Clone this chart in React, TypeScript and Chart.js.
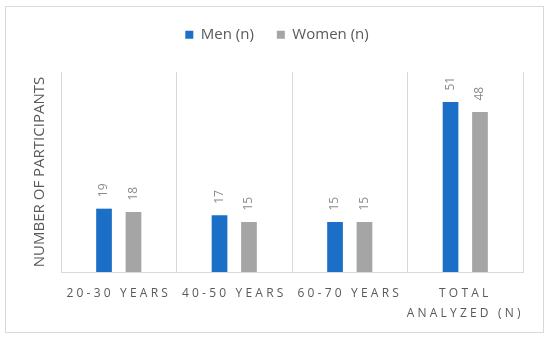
import React, { useEffect, useRef } from "react";
import { Chart, registerables } from "chart.js";

Chart.register(...registerables);

const categories: (string | string[])[] = [
  "20-30 YEARS",
  "40-50 YEARS",
  "60-70 YEARS",
  ["TOTAL", "ANALYZED (N)"],
];
const menValues = [19, 17, 15, 51];
const womenValues = [18, 15, 15, 48];
const seriesNames = ["Men (n)", "Women (n)"];
const yAxisTitle = "NUMBER OF PARTICIPANTS";

const FONT = "'Open Sans'";
const TEXT = "#595959";

const dataLabelPlugin = {
  id: "dataLabelsRotated",
  afterDatasetsDraw(chart: any) {
    const ctx = chart.ctx;
    ctx.save();
    ctx.font = `12px ${FONT}`;
    ctx.fillStyle = "#8a8a8a";
    ctx.textAlign = "left";
    ctx.textBaseline = "middle";
    chart.data.datasets.forEach((ds: any, i: number) => {
      const meta = chart.getDatasetMeta(i);
      meta.data.forEach((el: any, j: number) => {
        ctx.save();
        ctx.translate(el.x, el.y - 11.5);
        ctx.rotate(-Math.PI / 2);
        ctx.fillText(String(ds.data[j]), 0, 0);
        ctx.restore();
      });
    });
    ctx.restore();
    // letter spacing for the x tick labels drawn next (ticks z: 1)
    (ctx as any).letterSpacing = "3.2px";
  },
  afterDraw(chart: any) {
    (chart.ctx as any).letterSpacing = "0px";
  },
};

export default function App() {
  const ref = useRef<HTMLCanvasElement>(null);

  useEffect(() => {
    if (!ref.current) return;
    const chart = new Chart(ref.current, {
      type: "bar",
      data: {
        labels: categories as any,
        datasets: [
          {
            label: seriesNames[0],
            data: menValues,
            backgroundColor: "#1b6fc6",
            borderWidth: 0,
            categoryPercentage: 0.51,
            barPercentage: 0.533,
          },
          {
            label: seriesNames[1],
            data: womenValues,
            backgroundColor: "#a5a5a5",
            borderWidth: 0,
            categoryPercentage: 0.51,
            barPercentage: 0.533,
          },
        ],
      },
      options: {
        responsive: false,
        animation: false,
        devicePixelRatio: 1,
        layout: { padding: { top: 4.2, left: 31, right: 27, bottom: 3 } },
        plugins: {
          tooltip: { enabled: false },
          legend: {
            display: true,
            position: "top",
            labels: {
              boxWidth: 8,
              boxHeight: 8,
              padding: 23,
              color: TEXT,
              font: { family: FONT, size: 15 },
            },
          },
          title: {
            display: true,
            text: "",
            weight: 500,
            padding: { top: 0, bottom: 0 },
            font: { size: 10, lineHeight: "19.8px" },
          } as any,
        },
        scales: {
          x: {
            offset: true,
            grid: { offset: true, color: "#d9d9d9", drawTicks: false },
            border: { display: true, color: "#d9d9d9" },
            ticks: {
              color: TEXT,
              font: { family: FONT, size: 12, lineHeight: "20px" },
              padding: 12,
              maxRotation: 0,
              minRotation: 0,
              autoSkip: false,
              z: 1,
            },
          },
          y: {
            display: true,
            min: 0,
            max: 60,
            grid: { display: false },
            border: { display: false },
            ticks: { display: false },
            title: {
              display: true,
              text: yAxisTitle,
              color: TEXT,
              font: { family: FONT, size: 15 },
              padding: { top: 0, bottom: 4 },
            },
          },
        },
      },
      plugins: [dataLabelPlugin],
    });
    return () => chart.destroy();
  }, []);

  return (
    <div
      style={{
        position: "fixed",
        left: 0,
        top: 0,
        width: 550,
        height: 339,
        background: "#ffffff",
      }}
    >
      <div
        style={{
          position: "absolute",
          left: 5,
          top: 6,
          width: 539,
          height: 327,
          border: "1px solid #d9d9d9",
          boxSizing: "border-box",
        }}
      />
      <canvas
        ref={ref}
        width={550}
        height={339}
        style={{ position: "absolute", left: 0, top: 0, width: 550, height: 339 }}
      />
    </div>
  );
}
